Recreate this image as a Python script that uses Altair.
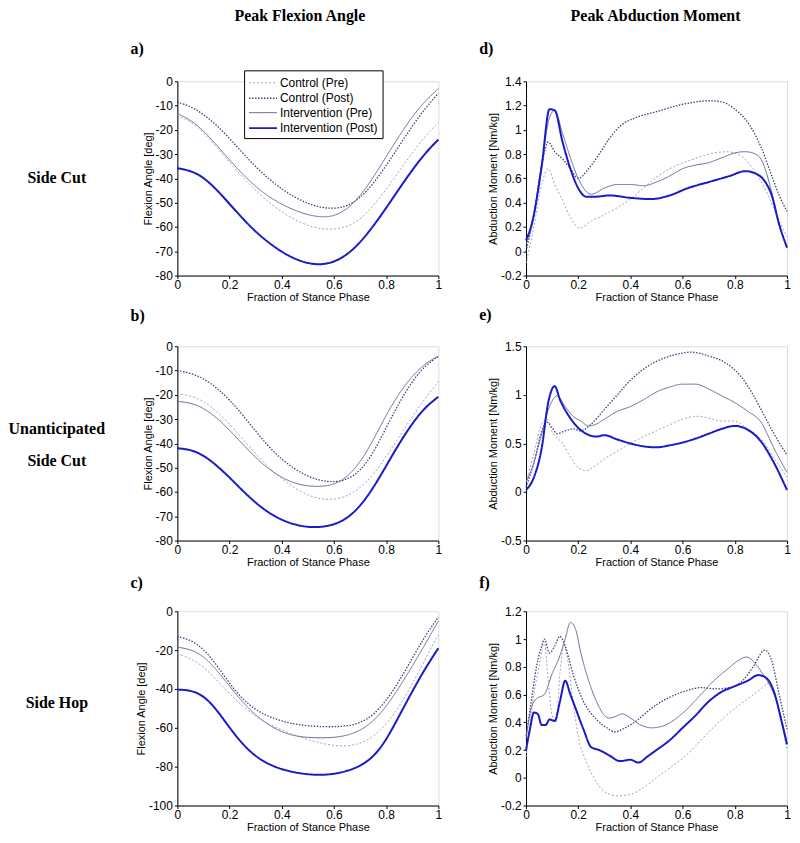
import altair as alt
import pandas as pd

SERIES = ["Control (Pre)", "Control (Post)", "Intervention (Pre)", "Intervention (Post)"]
COLORS = ["#a0a0c8", "#40407c", "#686898", "#1a1ac8"]
DASHES = [[2, 2], [1.5, 1.5], [1, 0], [1, 0]]
WIDTHS = [1, 1.3, 1, 2]

X_TICKS = [0, 0.2, 0.4, 0.6, 0.8, 1]

# ---- Flexion angle (deg), sampled at fraction of stance 0, 0.05, ..., 1
F_GRID = [0, 0.05, 0.1, 0.15, 0.2, 0.25, 0.3, 0.35, 0.4, 0.45, 0.5,
          0.55, 0.6, 0.65, 0.7, 0.75, 0.8, 0.85, 0.9, 0.95, 1]

A_CPRE = [-14, -16.5, -21, -27, -33.5, -39.5, -45, -49.8, -53.8, -57, -59.5,
          -60.8, -61, -60, -57, -51.5, -44.5, -37, -29.5, -22.5, -17]
A_CPOST = [-8.5, -10.3, -13.5, -18, -23.5, -29.5, -35.2, -40.2, -44.4, -47.8, -50.4,
           -52, -52.5, -51.5, -48.2, -42.3, -34.8, -26.5, -18.5, -11, -5]
A_IPRE = [-13.3, -15.8, -20.3, -26.2, -32.4, -38.3, -43.4, -47.5, -50.7, -53.2, -55,
          -56, -55.6, -52.8, -47.3, -39.8, -31, -22.5, -14.5, -8, -3]
A_IPOST = [-35.8, -36.7, -39.5, -44.5, -50.5, -56.5, -62, -66.5, -70.3, -73.2, -75,
           -75.6, -74.5, -71.5, -66.5, -59.8, -52.2, -44.2, -36.5, -29.5, -24]

B_CPRE = [-19.5, -20.3, -22.5, -26.5, -32, -38.2, -44.3, -49.9, -54.6, -58.5, -61.4,
          -63, -63.2, -61.8, -58.5, -53, -45.5, -37.2, -29, -21.3, -14.5]
B_CPOST = [-10, -11, -13.2, -17, -22, -28.2, -35, -41.4, -46.6, -50.6, -53.6,
           -55.4, -56, -55, -51.5, -44.2, -33.5, -23.2, -14.3, -7.8, -4.2]
B_IPRE = [-22.7, -23.2, -25.4, -29.3, -34.5, -40.3, -45.9, -50.6, -54.1, -56.5, -57.6,
          -57.8, -57, -54, -48, -38.8, -28.3, -19.2, -12.2, -7, -4]
B_IPOST = [-42, -42.5, -44.8, -49, -54, -59.5, -64.5, -68.6, -71.6, -73.5, -74.5,
           -74.5, -73.5, -71, -66, -58.5, -49.3, -40, -31.7, -25, -20.8]

C_CPRE = [-22, -24, -28.5, -35.2, -42.5, -49, -54.2, -58, -61.2, -63.8, -66,
          -67.9, -69.2, -69.5, -68.2, -64.7, -58.5, -49.2, -37.5, -24.5, -12]
C_CPOST = [-13, -14.6, -19.2, -27.5, -37.2, -45.3, -50.8, -54.2, -56.6, -58.1, -59,
           -59.4, -59.5, -59.1, -57.6, -53.6, -46.2, -36, -24.2, -12.5, -3]
C_IPRE = [-18.5, -19.5, -23, -30, -38.6, -46.8, -53.6, -58.6, -62.2, -64.2, -65,
          -65.2, -65, -64, -61.5, -56.8, -49.2, -39.2, -28.3, -16.8, -5]
C_IPOST = [-40.3, -40.6, -43.3, -50.5, -60, -68.5, -74.8, -78.8, -81.4, -83, -84,
           -84.3, -83.8, -82.3, -79.8, -75.2, -66.5, -53.8, -41.2, -29.3, -19]

# ---- Abduction moment (Nm/kg), (fraction of stance, value) pairs
D_CPRE = [(0, -0.1), (0.03, 0.2), (0.06, 0.55), (0.085, 0.68), (0.11, 0.55), (0.14, 0.42),
          (0.17, 0.28), (0.205, 0.19), (0.25, 0.25), (0.3, 0.3), (0.35, 0.36), (0.4, 0.43),
          (0.45, 0.52), (0.5, 0.61), (0.57, 0.7), (0.63, 0.75), (0.7, 0.8), (0.77, 0.82),
          (0.82, 0.79), (0.87, 0.68), (0.93, 0.45), (0.97, 0.25), (1.0, 0.12)]
D_CPOST = [(0, 0.0), (0.03, 0.3), (0.06, 0.7), (0.085, 0.9), (0.11, 0.82), (0.14, 0.76),
           (0.17, 0.68), (0.2, 0.6), (0.24, 0.68), (0.28, 0.8), (0.32, 0.93), (0.36, 1.03),
           (0.42, 1.1), (0.5, 1.15), (0.58, 1.2), (0.65, 1.23), (0.7, 1.24), (0.75, 1.23),
           (0.8, 1.17), (0.85, 1.06), (0.9, 0.86), (0.94, 0.63), (0.97, 0.46), (1.0, 0.33)]
D_IPRE = [(0, 0.05), (0.025, 0.25), (0.06, 0.72), (0.09, 1.1), (0.11, 1.16), (0.14, 0.97),
          (0.17, 0.77), (0.2, 0.6), (0.25, 0.47), (0.3, 0.52), (0.35, 0.55), (0.4, 0.55),
          (0.45, 0.54), (0.5, 0.57), (0.55, 0.62), (0.6, 0.68), (0.65, 0.71), (0.7, 0.73),
          (0.75, 0.77), (0.8, 0.81), (0.84, 0.82), (0.88, 0.8), (0.9, 0.76), (0.94, 0.5),
          (0.97, 0.22), (1.0, 0.03)]
D_IPOST = [(0, 0.09), (0.025, 0.25), (0.06, 0.7), (0.09, 1.17), (0.11, 1.16), (0.14, 0.9),
           (0.17, 0.68), (0.2, 0.52), (0.23, 0.45), (0.27, 0.45), (0.32, 0.46), (0.4, 0.44),
           (0.48, 0.43), (0.55, 0.46), (0.62, 0.52), (0.7, 0.57), (0.78, 0.62), (0.84, 0.66),
           (0.88, 0.64), (0.92, 0.56), (0.94, 0.47), (0.97, 0.22), (1.0, 0.03)]

E_CPRE = [(0, 0.1), (0.03, 0.4), (0.06, 0.7), (0.08, 0.75), (0.1, 0.62), (0.14, 0.5),
          (0.17, 0.36), (0.2, 0.25), (0.23, 0.22), (0.27, 0.28), (0.3, 0.34), (0.35, 0.42),
          (0.4, 0.5), (0.45, 0.57), (0.5, 0.63), (0.55, 0.69), (0.6, 0.75), (0.65, 0.78),
          (0.7, 0.76), (0.75, 0.73), (0.8, 0.73), (0.85, 0.65), (0.9, 0.55), (0.95, 0.35),
          (1.0, 0.15)]
E_CPOST = [(0, 0.05), (0.03, 0.3), (0.06, 0.62), (0.08, 0.72), (0.1, 0.66), (0.12, 0.6),
           (0.15, 0.63), (0.18, 0.65), (0.21, 0.63), (0.25, 0.7), (0.3, 0.85), (0.35, 1.0),
           (0.4, 1.15), (0.47, 1.3), (0.53, 1.38), (0.6, 1.43), (0.63, 1.44), (0.7, 1.4),
           (0.77, 1.32), (0.82, 1.2), (0.87, 1.0), (0.91, 0.8), (0.95, 0.6), (1.0, 0.38)]
E_IPRE = [(0, 0.1), (0.03, 0.3), (0.06, 0.6), (0.09, 0.88), (0.12, 0.99), (0.15, 0.88),
          (0.18, 0.78), (0.21, 0.73), (0.24, 0.68), (0.27, 0.7), (0.3, 0.75), (0.35, 0.83),
          (0.4, 0.88), (0.45, 0.95), (0.5, 1.03), (0.55, 1.08), (0.6, 1.11), (0.65, 1.11),
          (0.7, 1.06), (0.75, 0.99), (0.8, 0.92), (0.85, 0.83), (0.9, 0.72), (0.95, 0.45),
          (1.0, 0.2)]
E_IPOST = [(0, 0.02), (0.03, 0.15), (0.06, 0.45), (0.085, 0.92), (0.11, 1.09), (0.13, 0.95),
           (0.16, 0.8), (0.2, 0.66), (0.23, 0.6), (0.27, 0.57), (0.3, 0.585), (0.35, 0.54),
           (0.4, 0.5), (0.45, 0.47), (0.5, 0.46), (0.55, 0.48), (0.6, 0.51), (0.65, 0.55),
           (0.7, 0.6), (0.75, 0.65), (0.8, 0.68), (0.85, 0.64), (0.9, 0.52), (0.95, 0.3),
           (1.0, 0.02)]

F_CPRE = [(0, 0.15), (0.03, 0.6), (0.055, 0.85), (0.07, 0.98), (0.085, 0.7), (0.1, 0.45),
          (0.115, 0.4), (0.13, 0.75), (0.145, 0.95), (0.16, 0.85), (0.18, 0.55), (0.2, 0.3),
          (0.23, 0.12), (0.26, 0.0), (0.3, -0.1), (0.35, -0.13), (0.4, -0.12), (0.45, -0.07),
          (0.5, 0.0), (0.55, 0.07), (0.6, 0.14), (0.65, 0.23), (0.7, 0.33), (0.75, 0.42),
          (0.8, 0.5), (0.85, 0.57), (0.9, 0.64), (0.93, 0.68), (0.96, 0.55), (1.0, 0.2)]
F_CPOST = [(0, 0.3), (0.02, 0.55), (0.04, 0.8), (0.06, 0.95), (0.07, 1.0), (0.09, 0.9),
           (0.11, 0.95), (0.13, 1.02), (0.15, 0.95), (0.18, 0.75), (0.22, 0.55), (0.27, 0.42),
           (0.31, 0.36), (0.34, 0.33), (0.38, 0.36), (0.43, 0.42), (0.48, 0.5), (0.55, 0.58),
           (0.62, 0.63), (0.67, 0.65), (0.73, 0.64), (0.78, 0.65), (0.83, 0.7), (0.87, 0.8),
           (0.915, 0.92), (0.94, 0.85), (0.97, 0.6), (1.0, 0.35)]
F_IPRE = [(0, 0.28), (0.02, 0.5), (0.04, 0.57), (0.07, 0.6), (0.1, 0.75), (0.13, 0.88),
          (0.15, 1.0), (0.17, 1.12), (0.19, 1.07), (0.21, 0.9), (0.24, 0.7), (0.27, 0.55),
          (0.3, 0.45), (0.32, 0.43), (0.34, 0.44), (0.37, 0.46), (0.4, 0.43), (0.44, 0.38),
          (0.48, 0.36), (0.52, 0.37), (0.57, 0.42), (0.62, 0.5), (0.67, 0.6), (0.72, 0.7),
          (0.77, 0.78), (0.81, 0.84), (0.845, 0.87), (0.88, 0.82), (0.91, 0.74), (0.93, 0.68),
          (0.96, 0.55), (1.0, 0.25)]
F_IPOST = [(0, 0.2), (0.015, 0.35), (0.03, 0.47), (0.045, 0.46), (0.06, 0.38), (0.075, 0.38),
           (0.09, 0.42), (0.11, 0.41), (0.13, 0.55), (0.15, 0.7), (0.17, 0.6), (0.19, 0.5),
           (0.22, 0.35), (0.25, 0.22), (0.28, 0.2), (0.32, 0.16), (0.36, 0.12), (0.4, 0.13),
           (0.43, 0.11), (0.47, 0.16), (0.5, 0.2), (0.55, 0.27), (0.6, 0.36), (0.65, 0.45),
           (0.7, 0.55), (0.75, 0.62), (0.8, 0.66), (0.85, 0.7), (0.89, 0.74), (0.92, 0.72),
           (0.95, 0.62), (0.98, 0.4), (1.0, 0.24)]

FLEX_TICKS = [-80, -70, -60, -50, -40, -30, -20, -10, 0]
FLEX_TICKS_C = [-100, -80, -60, -40, -20, 0]
D_TICKS = [-0.2, 0, 0.2, 0.4, 0.6, 0.8, 1, 1.2, 1.4]
E_TICKS = [-0.5, 0, 0.5, 1, 1.5]
F_TICKS = [-0.2, 0, 0.2, 0.4, 0.6, 0.8, 1, 1.2]

W, H = 262, 195


def flex_frame(cols):
    rows = []
    for s, vals in zip(SERIES, cols):
        for x, y in zip(F_GRID, vals):
            rows.append({"x": x, "y": y, "series": s})
    return pd.DataFrame(rows)


def mom_frame(cols):
    rows = []
    for s, pts in zip(SERIES, cols):
        for x, y in pts:
            rows.append({"x": x, "y": y, "series": s})
    return pd.DataFrame(rows)


def axis(values, title, is_x):
    return alt.Axis(values=values, title=title, labelExpr="'' + datum.value",
                    grid=False, tickSize=3, labelPadding=1 if is_x else 2,
                    titlePadding=1 if is_x else 2, labelFlush=False,
                    domainColor="black", tickColor="black", labelColor="black",
                    titleColor="black", labelFont="Liberation Sans",
                    titleFont="Liberation Sans", labelFontSize=12,
                    titleFontSize=11, titleFontWeight="normal")


def text(t, dx, dy, size=16, align="left"):
    return alt.Chart(alt.Data(values=[{"k": 1}])).mark_text(
        text=t, align=align, baseline="middle", font="Liberation Serif",
        fontWeight="bold", fontSize=size, color="black"
    ).encode(x=alt.value(dx), y=alt.value(dy))


def panel(df, ydom, yticks, ytitle, notes, interp, show_legend=False):
    if show_legend:
        leg = alt.Legend(orient="none", legendX=67, legendY=-11, title=None,
                         fillColor="white", strokeColor="black", padding=4,
                         labelFont="Liberation Sans", labelFontSize=12,
                         labelColor="black", symbolType="M-1,0H2.5", symbolSize=256,
                         rowPadding=0, labelOffset=14, cornerRadius=0)
    else:
        leg = None
    lines = alt.Chart(df).mark_line(interpolate=interp).encode(
        x=alt.X("x:Q", scale=alt.Scale(domain=[0, 1], nice=False),
                axis=axis(X_TICKS, "Fraction of Stance Phase", True)),
        y=alt.Y("y:Q", scale=alt.Scale(domain=ydom, nice=False, zero=False),
                axis=axis(yticks, ytitle, False)),
        color=alt.Color("series:N", scale=alt.Scale(domain=SERIES, range=COLORS),
                        legend=leg, sort=SERIES),
        strokeDash=alt.StrokeDash("series:N",
                                  scale=alt.Scale(domain=SERIES, range=DASHES),
                                  legend=leg, sort=SERIES),
        strokeWidth=alt.StrokeWidth("series:N",
                                    scale=alt.Scale(type="ordinal", domain=SERIES, range=WIDTHS),
                                    legend=leg, sort=SERIES),
    )
    return alt.layer(lines, *notes).properties(width=W, height=H)


pa = panel(flex_frame([A_CPRE, A_CPOST, A_IPRE, A_IPOST]), [-80, 0], FLEX_TICKS,
           "Flexion Angle [deg]",
           [text("Peak Flexion Angle", 123, -66, 16, "center"),
            text("a)", -47, -32),
            text("Side Cut", -121, 97, 16, "center")],
           "basis", show_legend=True)
pd_ = panel(mom_frame([D_CPRE, D_CPOST, D_IPRE, D_IPOST]), [-0.2, 1.4], D_TICKS,
            "Abduction Moment [Nm/kg]",
            [text("Peak Abduction Moment", 130, -66, 16, "center"),
             text("d)", -47, -32)], "monotone")
pb = panel(flex_frame([B_CPRE, B_CPOST, B_IPRE, B_IPOST]), [-80, 0], FLEX_TICKS,
           "Flexion Angle [deg]",
           [text("b)", -47, -30),
            text("Unanticipated", -121, 83, 16, "center"),
            text("Side Cut", -121, 115, 16, "center")], "basis")
pe = panel(mom_frame([E_CPRE, E_CPOST, E_IPRE, E_IPOST]), [-0.5, 1.5], E_TICKS,
           "Abduction Moment [Nm/kg]",
           [text("e)", -47, -31)], "monotone")
pc = panel(flex_frame([C_CPRE, C_CPOST, C_IPRE, C_IPOST]), [-100, 0], FLEX_TICKS_C,
           "Flexion Angle [deg]",
           [text("c)", -47, -28),
            text("Side Hop", -121, 92, 16, "center")], "basis")
pf = panel(mom_frame([F_CPRE, F_CPOST, F_IPRE, F_IPOST]), [-0.2, 1.2], F_TICKS,
           "Abduction Moment [Nm/kg]",
           [text("f)", -47, -28)], "monotone")

chart = alt.concat(
    pa, pd_, pb, pe, pc, pf, columns=2,
    spacing=alt.RowColnumber(row=71, column=88),
    bounds="flush",
    padding={"left": 0, "top": -3, "right": 0, "bottom": 0},
).resolve_scale(
    x="independent", y="independent", color="independent",
    strokeDash="independent", strokeWidth="independent"
).resolve_legend(
    color="independent", strokeDash="independent", strokeWidth="independent"
).configure_view(stroke=None).configure(background="white")

chart.save("out.html", embed_options={"renderer": "svg", "actions": False})
